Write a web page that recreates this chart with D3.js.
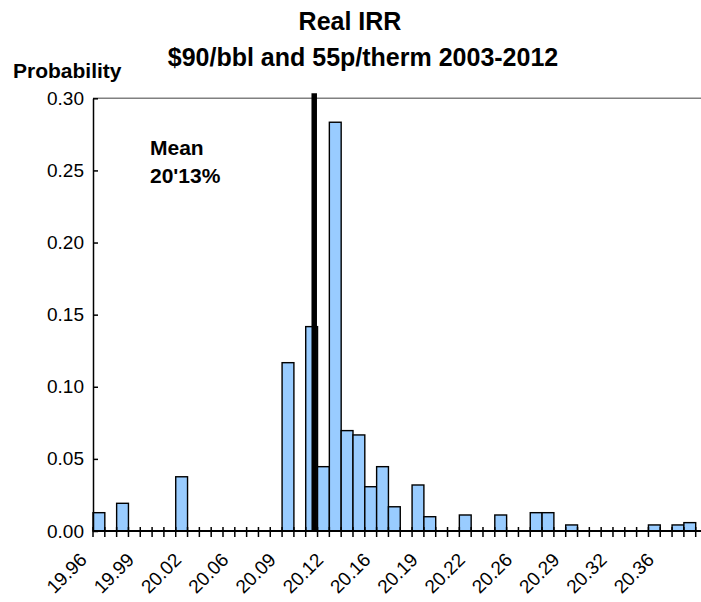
<!DOCTYPE html>
<html><head><meta charset="utf-8">
<script src="https://cdn.jsdelivr.net/npm/d3@7"></script>
<style>
body{margin:0;background:#fff;}
text{font-family:"Liberation Sans",Arial,sans-serif;}
</style></head>
<body><svg id="c" width="701" height="602"></svg>
<script>
// 51 bins; tick labels every 4th bin
const binLabels = ["19.96","19.99","20.02","20.06","20.09","20.12","20.16","20.19","20.22","20.26","20.29","20.32","20.36"];
const probabilities = [
  0.0127,0,0.0192,0,0,0,0,0.0376,0,0,
  0,0,0,0,0,0,0.1167,0,0.1417,0.0446,
  0.2834,0.0696,0.0666,0.0307,0.0446,0.0168,0,0.0319,0.0099,0,
  0,0.0111,0,0,0.0111,0,0,0.0127,0.0127,0,
  0.0042,0,0,0,0,0,0,0.0042,0,0.0042,
  0.0058
];
const yTicks = [0,0.05,0.10,0.15,0.20,0.25,0.30];
const meanBinPosition = 18.72; // mean location, in bin units
const meanLabel = ["Mean","20'13%"];
const titleLines = ["Real IRR","$90/bbl and 55p/therm 2003-2012"];

const svg = d3.select("#c");
const L = 93, R = 695.7, T = 98.3, B = 531;
const idx = d3.range(probabilities.length);
const x = d3.scaleBand().domain(idx).range([L, R]).padding(0);
const xl = d3.scaleLinear().domain([0, probabilities.length]).range([L, R]);
const y = d3.scaleLinear().domain([0, 0.30]).range([B, T]);

// top border
svg.append("line").attr("x1", L).attr("x2", 701).attr("y1", T).attr("y2", T)
  .attr("stroke", "#808080").attr("stroke-width", 1.5);

// bars
svg.append("g").selectAll("rect").data(idx.filter(i => probabilities[i] > 0)).join("rect")
  .attr("x", i => x(i)).attr("width", x.bandwidth())
  .attr("y", i => y(probabilities[i])).attr("height", i => B - y(probabilities[i]))
  .attr("fill", "#99CCFF").attr("stroke", "#000").attr("stroke-width", 1.4);

// y axis
const ya = svg.append("g").attr("transform", `translate(${L},0)`)
  .call(d3.axisLeft(y).tickValues(yTicks).tickFormat(d3.format(".2f")).tickSizeInner(-5).tickSizeOuter(0).tickPadding(9));
ya.select(".domain").attr("stroke", "#000").attr("stroke-width", 1.5);
ya.selectAll(".tick line").attr("stroke", "#000").attr("stroke-width", 1.5);
ya.selectAll(".tick text").attr("font-size", 19).attr("fill", "#000").attr("font-family", "Liberation Sans, Arial, sans-serif");

// x axis line
svg.append("line").attr("x1", L).attr("x2", 701).attr("y1", B).attr("y2", B)
  .attr("stroke", "#000").attr("stroke-width", 2);
// x ticks at bin edges
svg.append("g").selectAll("line").data(d3.range(probabilities.length + 1)).join("line")
  .attr("x1", d => xl(d)).attr("x2", d => xl(d)).attr("y1", B - 4).attr("y2", B + 6)
  .attr("stroke", "#000").attr("stroke-width", 1.5);
// x labels
svg.append("g").selectAll("text").data(binLabels).join("text")
  .attr("transform", (d, i) => `translate(${xl(i * 4) - 5},${B + 30}) rotate(-45)`)
  .attr("text-anchor", "end").attr("font-size", 19).attr("fill", "#000").text(d => d);

// mean line
svg.append("line").attr("x1", xl(meanBinPosition)).attr("x2", xl(meanBinPosition))
  .attr("y1", T - 5).attr("y2", B).attr("stroke", "#000").attr("stroke-width", 5.5);

// mean annotation
svg.append("g").selectAll("text").data(meanLabel).join("text")
  .attr("x", 150).attr("y", (d, i) => 155 + i * 28)
  .attr("font-size", 21).attr("font-weight", "bold").attr("fill", "#000").text(d => d);

// titles
svg.append("text").attr("x", 350).attr("y", 30).attr("text-anchor", "middle")
  .attr("font-size", 25).attr("font-weight", "bold").text(titleLines[0]);
svg.append("text").attr("x", 363).attr("y", 66).attr("text-anchor", "middle")
  .attr("font-size", 25).attr("font-weight", "bold").text(titleLines[1]);
svg.append("text").attr("x", 13).attr("y", 78)
  .attr("font-size", 21).attr("font-weight", "bold").text("Probability");
</script></body></html>
